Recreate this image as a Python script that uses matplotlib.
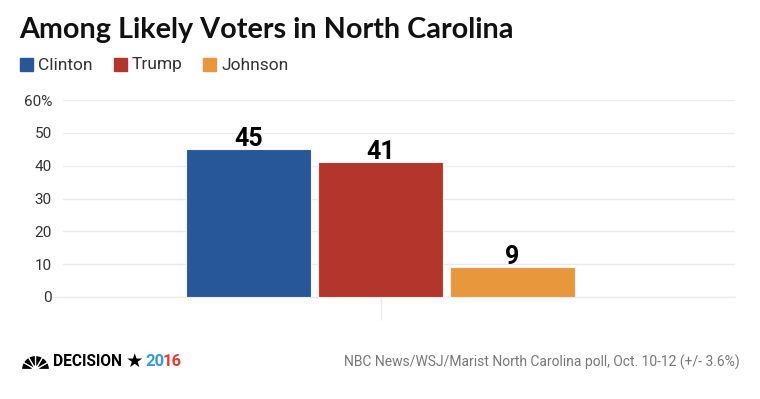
import matplotlib
matplotlib.use("Agg")
import matplotlib.pyplot as plt
from matplotlib.patches import Wedge, Circle

W, H = 760, 399

candidates = ["Clinton", "Trump", "Johnson"]
shares = [45, 41, 9]
colors = ["#285799", "#b3352b", "#e8973c"]
yticks = [0, 10, 20, 30, 40, 50, 60]
ytick_labels = ["0", "10", "20", "30", "40", "50", "60%"]

title = "Among Likely Voters in North Carolina"
source = "NBC News/WSJ/Marist North Carolina poll, Oct. 10-12 (+/- 3.6%)"


def fx(px):
    return px / W


def fy(py):
    return 1 - py / H


fig = plt.figure(figsize=(W / 100, H / 100), dpi=100)
fig.patch.set_facecolor("white")

ax = fig.add_axes([fx(63), fy(297), fx(735) - fx(63), fy(100) - fy(297)])
offsets = [-1, 0, 1]
bar_w = 125 / 132
for off, val, col in zip(offsets, shares, colors):
    ax.bar(off, val, width=bar_w, color=col, edgecolor="#f4f4f4", linewidth=0.8, zorder=3)
    ax.text(off, val + 1.0, str(val), ha="center", va="baseline", fontsize=18,
            fontweight="bold", family="Roboto", color="black", zorder=4)

ax.set_xlim((63 - 380.5) / 132, (735 - 380.5) / 132)
ax.set_ylim(0, 60)
ax.set_yticks(yticks)
ax.set_yticklabels(ytick_labels)
ax.grid(axis="y", color="#ebebeb", linewidth=1, zorder=0)
ax.axhline(0, xmin=-11 / 672, xmax=1, color="#ebebeb", linewidth=1, clip_on=False, zorder=1)
ax.set_xticks([0])
ax.set_xticklabels([""])
ax.tick_params(axis="x", length=23 * 0.72, color="#ebebeb", width=1, direction="out")
ax.tick_params(axis="y", length=0, pad=8, labelsize=11, labelcolor="#333333")
for lab in ax.get_yticklabels():
    lab.set_family("Roboto")
for s in ax.spines.values():
    s.set_visible(False)

# title
fig.text(fx(19), fy(30), title, fontsize=20.7, fontweight="bold", family="Lato",
         color="#111111", va="center", ha="left")

# legend
leg_x = [20, 114, 203]
for x0, name, col in zip(leg_x, candidates, colors):
    fig.patches.append(plt.Rectangle((fx(x0), fy(71)), 13 / W, 13 / H,
                                     transform=fig.transFigure, color=col))
    fig.text(fx(x0 + 18), fy(65), name, fontsize=12.5, family="Roboto",
             color="#333333", va="center", ha="left")

# footer logo: peacock fan (pixel coordinates)
pc = (35.5, H - 369.5)
for i in range(6):
    fig.patches.append(Wedge(pc, 14, i * 30, (i + 1) * 30, transform=None,
                             facecolor="black", edgecolor="white", linewidth=0.9))
fig.patches.append(Circle(pc, 4, transform=None, facecolor="white", edgecolor="none"))

fig.text(fx(53), fy(361), "DECISION", fontsize=11.2, fontweight="bold", family="Roboto",
         color="black", va="center", ha="left")
fig.text(fx(126), fy(361), "\u2605", fontsize=14, family="DejaVu Sans",
         color="black", va="center", ha="left")
renderer = fig.canvas.get_renderer()
t20 = fig.text(fx(145), fy(361), "20", fontsize=12, fontweight="bold", family="Roboto",
               color="#3a9ad9", va="center", ha="left")
bb = t20.get_window_extent(renderer)
fig.text(fx(145 + bb.width - 1), fy(361), "16", fontsize=12, fontweight="bold",
         family="Roboto", color="#e03c31", va="center", ha="left")

fig.text(fx(740), fy(362), source, fontsize=10, family="Roboto",
         color="#777777", va="center", ha="right")

fig.savefig("out.png", dpi=100, facecolor="white")
